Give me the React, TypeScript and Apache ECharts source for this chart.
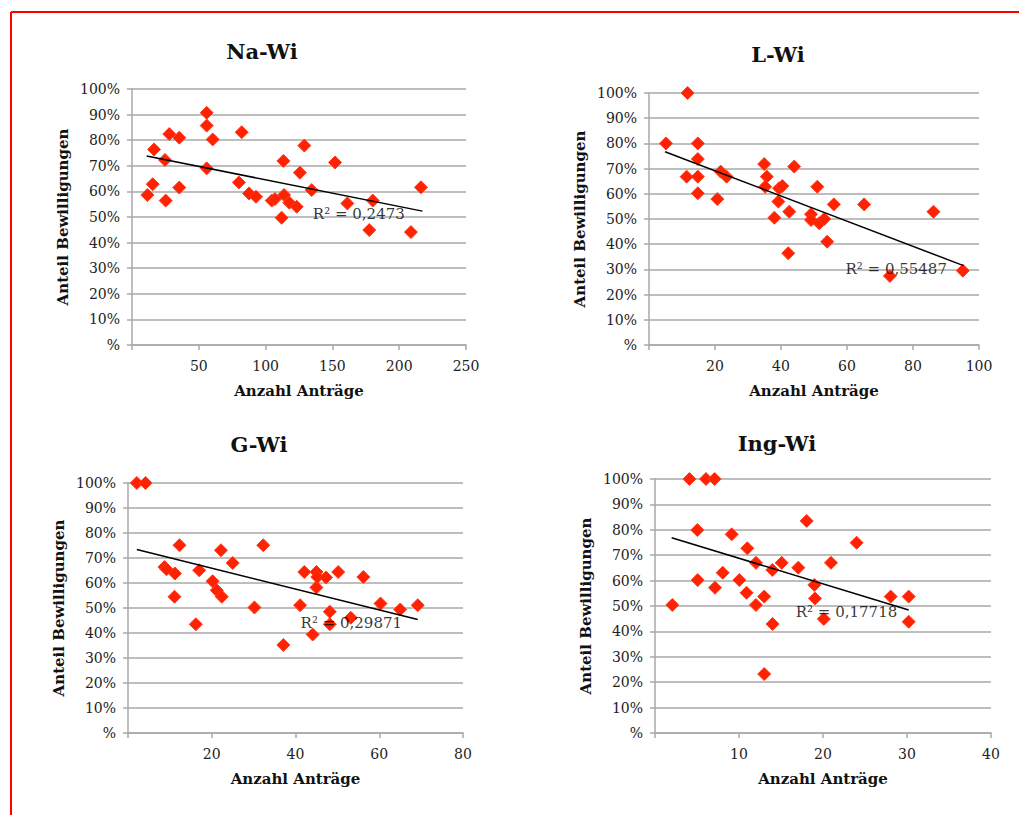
import React, { useEffect, useRef } from "react";
import * as echarts from "echarts";

// ---------- data ----------
const titles = ["Na-Wi", "L-Wi", "G-Wi", "Ing-Wi"];
const yTicks = [0, 10, 20, 30, 40, 50, 60, 70, 80, 90, 100];

const naWiX = [11.5, 15.5, 16.5, 24.7, 25.2, 27.9, 35.4, 35.4, 55.9, 55.9, 55.9, 60.4, 82.1, 80, 87.6, 92.8, 104.6, 107, 112, 113.3, 113.8, 117.8, 123.3, 125.7, 129, 134.5, 152, 161.2, 180.2, 177.6, 208.8, 216.3];
const naWiY = [58.6, 62.8, 76.4, 72.3, 56.4, 82.4, 81, 61.5, 90.7, 85.7, 69, 80.3, 83.1, 63.5, 59.2, 57.9, 56.4, 57, 49.7, 71.9, 58.6, 55.6, 54, 67.3, 77.9, 60.5, 71.3, 55.3, 56.4, 44.9, 44.1, 61.6];
const naWiTrendX = [11, 217.4];
const naWiTrendY = [73.8, 52.3];
const naWiR2 = "R² = 0,2473";
const naWiR2At = [135, 51.2];

const lWiX = [5.15, 11.7, 11.4, 14.8, 14.8, 14.8, 14.8, 20.7, 21.7, 23.5, 34.9, 35.7, 35.2, 38, 39.2, 39.4, 40.4, 42.2, 42.5, 44, 49.1, 49.1, 51, 51.6, 53.1, 54, 56, 65.2, 73, 86.2, 95.1];
const lWiY = [80, 100, 66.8, 80, 73.8, 66.8, 60.2, 57.9, 68.8, 66.8, 71.8, 66.8, 62.8, 50.5, 56.9, 62.2, 63.1, 36.4, 52.9, 70.8, 51.9, 49.6, 62.8, 48.3, 50, 41, 55.8, 55.8, 27.4, 52.9, 29.5];
const lWiTrendX = [4.85, 95.3];
const lWiTrendY = [76.7, 31.5];
const lWiR2 = "R² = 0,55487";
const lWiR2At = [59.4, 30];

const gWiX = [2.1, 4.2, 8.7, 9.2, 11.2, 11.1, 12.3, 16.2, 17, 20.2, 21.2, 22.4, 22.2, 25, 30.2, 32.3, 37.1, 41.1, 42.1, 44.1, 45, 45, 45.2, 47.3, 48.2, 48.2, 50.2, 53.2, 56.2, 60.3, 65, 69.2];
const gWiY = [100, 100, 66.4, 65.5, 63.8, 54.5, 75.1, 43.5, 65.1, 60.7, 57.1, 54.5, 73.1, 68, 50.2, 75.1, 35.2, 51.1, 64.4, 39.4, 64.4, 58.2, 62.4, 62.2, 48.5, 43.5, 64.4, 46.1, 62.4, 51.8, 49.4, 51.1];
const gWiTrendX = [2.1, 69.2];
const gWiTrendY = [73.4, 45.4];
const gWiR2 = "R² = 0,29871";
const gWiR2At = [41.1, 44];

const ingWiX = [2.06, 4.1, 6.07, 7.1, 5.04, 5.08, 7.14, 8.06, 9.13, 10.04, 10.99, 10.9, 12.02, 12.02, 13, 13, 13.97, 14, 15.08, 17.06, 18.06, 18.97, 19.05, 20.1, 20.95, 24, 28.06, 30.2, 30.2];
const ingWiY = [50.4, 100, 100, 100, 79.9, 60.2, 57.2, 63.1, 78.2, 60.2, 72.7, 55.2, 67, 50.4, 53.7, 23.2, 64.2, 42.9, 67, 65.1, 83.5, 58.3, 53, 44.9, 67, 74.9, 53.7, 53.7, 43.8];
const ingWiTrendX = [1.98, 30.2];
const ingWiTrendY = [76.9, 48.4];
const ingWiR2 = "R² = 0,17718";
const ingWiR2At = [16.7, 47.5];

const xMaxes = [250, 100, 80, 40];
const xSteps = [50, 20, 20, 10];

// ---------- layout / style ----------
const FONT = "DejaVu Serif";
const GRID_COLOR = "#a9a9a9";
const RED = "#ff2200";
const grids = [
  { left: 132, top: 89, width: 334, height: 256 },
  { left: 649, top: 93, width: 330, height: 252 },
  { left: 128, top: 483, width: 335, height: 250 },
  { left: 655, top: 479, width: 336, height: 254 },
];
const titleCenters = [
  [262, 41],
  [778, 44],
  [259, 434],
  [777, 433],
];

const panels = [
  { x: naWiX, y: naWiY, tx: naWiTrendX, ty: naWiTrendY, r2: naWiR2, r2At: naWiR2At },
  { x: lWiX, y: lWiY, tx: lWiTrendX, ty: lWiTrendY, r2: lWiR2, r2At: lWiR2At },
  { x: gWiX, y: gWiY, tx: gWiTrendX, ty: gWiTrendY, r2: gWiR2, r2At: gWiR2At },
  { x: ingWiX, y: ingWiY, tx: ingWiTrendX, ty: ingWiTrendY, r2: ingWiR2, r2At: ingWiR2At },
];

function buildOption() {
  const xAxis: any[] = [];
  const yAxis: any[] = [];
  const series: any[] = [];
  const title: any[] = [];
  panels.forEach((p, i) => {
    title.push({
      text: titles[i],
      left: titleCenters[i][0],
      top: titleCenters[i][1],
      textAlign: "center",
      padding: 0,
      textStyle: { fontFamily: FONT, fontWeight: "bold", fontSize: 21, color: "#111" },
    });
    xAxis.push({
      type: "value",
      gridIndex: i,
      min: 0,
      max: xMaxes[i],
      interval: xSteps[i],
      name: "Anzahl Anträge",
      nameLocation: "middle",
      nameGap: 38,
      nameTextStyle: { fontFamily: FONT, fontWeight: "bold", fontSize: 15, color: "#111" },
      axisLine: { show: true, lineStyle: { color: GRID_COLOR, width: 1.5 } },
      axisTick: { show: true, length: 5, lineStyle: { color: GRID_COLOR, width: 1.5 } },
      splitLine: { show: false },
      axisLabel: {
        margin: 14,
        fontFamily: FONT,
        fontSize: 14,
        color: "#222",
        formatter: (v: number) => (v === 0 ? "" : String(v)),
      },
    });
    yAxis.push({
      type: "value",
      gridIndex: i,
      min: yTicks[0],
      max: yTicks[yTicks.length - 1],
      interval: 10,
      name: "Anteil Bewilligungen",
      nameLocation: "middle",
      nameGap: 62,
      nameTextStyle: { fontFamily: FONT, fontWeight: "bold", fontSize: 15, color: "#111" },
      axisLine: { show: true, lineStyle: { color: GRID_COLOR, width: 1.5 } },
      axisTick: { show: true, length: 5, lineStyle: { color: GRID_COLOR, width: 1.5 } },
      splitLine: { show: true, lineStyle: { color: GRID_COLOR, width: 1.5 } },
      axisLabel: {
        margin: 12,
        fontFamily: FONT,
        fontSize: 14,
        color: "#222",
        formatter: (v: number) => (v === 0 ? "%" : v + "%"),
      },
    });
    series.push({
      type: "scatter",
      xAxisIndex: i,
      yAxisIndex: i,
      symbol: "diamond",
      symbolSize: 13,
      itemStyle: { color: RED, opacity: 1, borderColor: "#ff3b1f", borderWidth: 1 },
      data: p.x.map((xv, k) => [xv, p.y[k]]),
      z: 3,
    });
    series.push({
      type: "line",
      xAxisIndex: i,
      yAxisIndex: i,
      showSymbol: false,
      symbol: "none",
      lineStyle: { color: "#000", width: 1.5 },
      data: p.tx.map((xv, k) => [xv, p.ty[k]]),
      z: 4,
    });
    series.push({
      type: "scatter",
      xAxisIndex: i,
      yAxisIndex: i,
      symbolSize: 1,
      itemStyle: { color: "rgba(0,0,0,0)" },
      label: {
        show: true,
        position: "right",
        distance: 0,
        formatter: p.r2,
        fontFamily: FONT,
        fontSize: 15,
        color: "#000",
      },
      data: [p.r2At],
      z: 5,
    });
  });
  return {
    animation: false,
    backgroundColor: "#ffffff",
    title,
    grid: grids.map((g) => ({ ...g, containLabel: false })),
    xAxis,
    yAxis,
    series,
    graphic: [
      { type: "line", shape: { x1: 11, y1: 12, x2: 1019, y2: 12 }, style: { stroke: "#ff0000", lineWidth: 2 } },
      { type: "line", shape: { x1: 11, y1: 12, x2: 11, y2: 815 }, style: { stroke: "#ff0000", lineWidth: 2 } },
    ],
  };
}

export default function App() {
  const ref = useRef<HTMLDivElement>(null);
  useEffect(() => {
    if (!ref.current) return;
    const chart = echarts.init(ref.current, undefined, { renderer: "svg" });
    chart.setOption(buildOption() as any);
    return () => chart.dispose();
  }, []);
  return (
    <div
      ref={ref}
      style={{ position: "absolute", left: 0, top: 0, width: 1019, height: 815, background: "#fff" }}
    />
  );
}
